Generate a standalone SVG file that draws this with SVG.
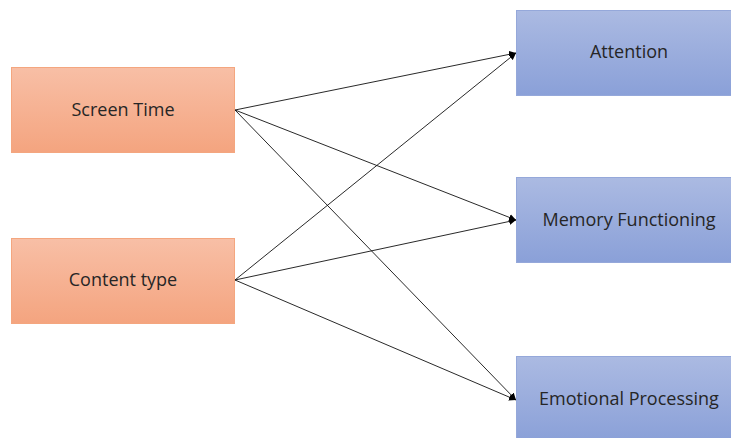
<svg xmlns="http://www.w3.org/2000/svg" width="731" height="438" viewBox="0 0 731 438">
<style>
.txt{font-family:"Open Sans","Liberation Sans",sans-serif;font-size:18px;fill:#262626;text-anchor:middle;dominant-baseline:central}
.src{fill:url(#og);stroke:#f4a67f;stroke-width:1}
.dst{fill:url(#bg);stroke:#95a8da;stroke-width:1}
.ln{stroke:#111;stroke-width:0.9;fill:none;marker-end:url(#ah)}
</style>
<defs>
<linearGradient id="og" x1="0" y1="0" x2="0" y2="1"><stop offset="0" stop-color="#f8bfa6"/><stop offset="1" stop-color="#f4a47f"/></linearGradient>
<linearGradient id="bg" x1="0" y1="0" x2="0" y2="1"><stop offset="0" stop-color="#abbae2"/><stop offset="1" stop-color="#8aa0d8"/></linearGradient>
<marker id="ah" viewBox="0 0 10 10" refX="10" refY="5" markerWidth="7" markerHeight="7" orient="auto" markerUnits="userSpaceOnUse"><path d="M0,0 L10,5 L0,10 z" fill="#000"/></marker>
</defs>
<rect width="731" height="438" fill="#fff"/>
<g id="connectors">
<line class="ln" x1="235" y1="110" x2="516" y2="53"/>
<line class="ln" x1="235" y1="110" x2="516" y2="220"/>
<line class="ln" x1="235" y1="110" x2="516" y2="400"/>
<line class="ln" x1="235" y1="280" x2="516" y2="53"/>
<line class="ln" x1="235" y1="280" x2="516" y2="220"/>
<line class="ln" x1="235" y1="280" x2="516" y2="400"/>
</g>
<g id="screen-time"><rect class="src" x="11.5" y="67.5" width="223" height="85"/><text class="txt" x="123" y="109">Screen Time</text></g>
<g id="content-type"><rect class="src" x="11.5" y="238.5" width="223" height="85"/><text class="txt" x="123" y="279">Content type</text></g>
<g id="attention"><rect class="dst" x="516.5" y="10.5" width="216" height="85"/><text class="txt" x="629" y="51">Attention</text></g>
<g id="memory"><rect class="dst" x="516.5" y="177.5" width="216" height="85"/><text class="txt" x="629" y="219">Memory Functioning</text></g>
<g id="emotional"><rect class="dst" x="516.5" y="356.5" width="216" height="85"/><text class="txt" x="629" y="398">Emotional Processing</text></g>
</svg>
